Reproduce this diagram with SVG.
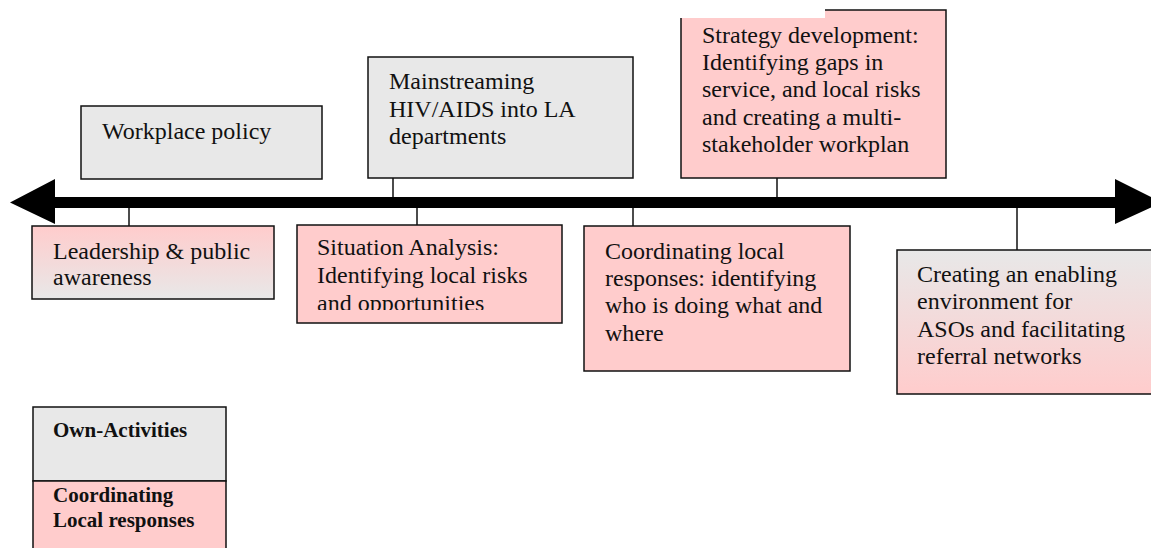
<svg xmlns="http://www.w3.org/2000/svg" width="1151" height="548" viewBox="0 0 1151 548">
  <defs>
    <linearGradient id="pinkToGray" x1="0" y1="0" x2="0" y2="1">
      <stop offset="0" stop-color="#ffcccc"/>
      <stop offset="1" stop-color="#e8e8e8"/>
    </linearGradient>
    <linearGradient id="grayToPink" x1="0" y1="0" x2="0" y2="1">
      <stop offset="0" stop-color="#e8e8e8"/>
      <stop offset="1" stop-color="#ffcccc"/>
    </linearGradient>
    <clipPath id="situationClip">
      <rect x="297" y="225" width="265" height="85"/>
    </clipPath>
    <style>
      .box { stroke: #111; stroke-width: 1.5; }
      .own { fill: #e8e8e8; }
      .coord { fill: #ffcccc; }
      .lbl { font-family: "Liberation Serif", "Times New Roman", serif; font-size: 24px; fill: #111; }
      .key { font-family: "Liberation Serif", "Times New Roman", serif; font-size: 21px; font-weight: bold; fill: #111; }
      .tick { stroke: #111; stroke-width: 1.5; fill: none; }
    </style>
  </defs>

  <rect width="1151" height="548" fill="#ffffff"/>

  <!-- timeline and ticks -->
  <g id="connectors">
    <polygon fill="#000" points="10,202.5 55,179 55,197 1115,197 1115,179 1162,202.5 1115,224 1115,208 55,208 55,224"/>
    <line class="tick" x1="129" y1="208" x2="129" y2="226"/>
    <line class="tick" x1="393" y1="178" x2="393" y2="197"/>
    <line class="tick" x1="417" y1="208" x2="417" y2="225"/>
    <line class="tick" x1="633" y1="208" x2="633" y2="226"/>
    <line class="tick" x1="777" y1="178" x2="777" y2="197"/>
    <line class="tick" x1="1017" y1="208" x2="1017" y2="250"/>
  </g>

  <g id="workplace-policy">
    <rect class="box own" x="81" y="106" width="241" height="73"/>
    <text class="lbl" x="102" y="139">Workplace policy</text>
  </g>

  <g id="mainstreaming">
    <rect class="box own" x="368" y="57" width="265" height="121"/>
    <text class="lbl" x="389" y="89">Mainstreaming</text>
    <text class="lbl" x="389" y="116.5">HIV/AIDS into LA</text>
    <text class="lbl" x="389" y="144">departments</text>
  </g>

  <g id="strategy-development">
    <rect class="box coord" x="681" y="10" width="265" height="168"/>
    <rect x="677" y="5" width="148" height="13" fill="#ffffff"/>
    <text class="lbl" x="702" y="43">Strategy development:</text>
    <text class="lbl" x="702" y="70">Identifying gaps in</text>
    <text class="lbl" x="702" y="97">service, and local risks</text>
    <text class="lbl" x="702" y="124.5">and creating a multi-</text>
    <text class="lbl" x="702" y="152">stakeholder workplan</text>
  </g>

  <g id="leadership">
    <rect class="box" fill="url(#pinkToGray)" x="32" y="226" width="242" height="73"/>
    <text class="lbl" x="53" y="259">Leadership &amp; public</text>
    <text class="lbl" x="53" y="285">awareness</text>
  </g>

  <g id="situation-analysis">
    <rect class="box coord" x="297" y="225" width="265" height="98"/>
    <g clip-path="url(#situationClip)">
      <text class="lbl" x="317" y="255">Situation Analysis:</text>
      <text class="lbl" x="317" y="283">Identifying local risks</text>
      <text class="lbl" x="317" y="311">and opportunities</text>
    </g>
  </g>

  <g id="coordinating-responses">
    <rect class="box coord" x="584" y="226" width="266" height="145"/>
    <text class="lbl" x="605" y="259">Coordinating local</text>
    <text class="lbl" x="605" y="286">responses: identifying</text>
    <text class="lbl" x="605" y="313">who is doing what and</text>
    <text class="lbl" x="605" y="340.5">where</text>
  </g>

  <g id="enabling-environment">
    <rect class="box" fill="url(#grayToPink)" x="897" y="250" width="260" height="144"/>
    <text class="lbl" x="917" y="282">Creating an enabling</text>
    <text class="lbl" x="917" y="309">environment for</text>
    <text class="lbl" x="917" y="336.5">ASOs and facilitating</text>
    <text class="lbl" x="917" y="364">referral networks</text>
  </g>

  <!-- key -->
  <g id="legend">
    <rect class="box own" x="33" y="407" width="193" height="74"/>
    <rect class="box coord" x="33" y="481" width="193" height="75"/>
    <text class="key" x="53" y="437">Own-Activities</text>
    <text class="key" x="53" y="502">Coordinating</text>
    <text class="key" x="53" y="527">Local responses</text>
  </g>
</svg>
